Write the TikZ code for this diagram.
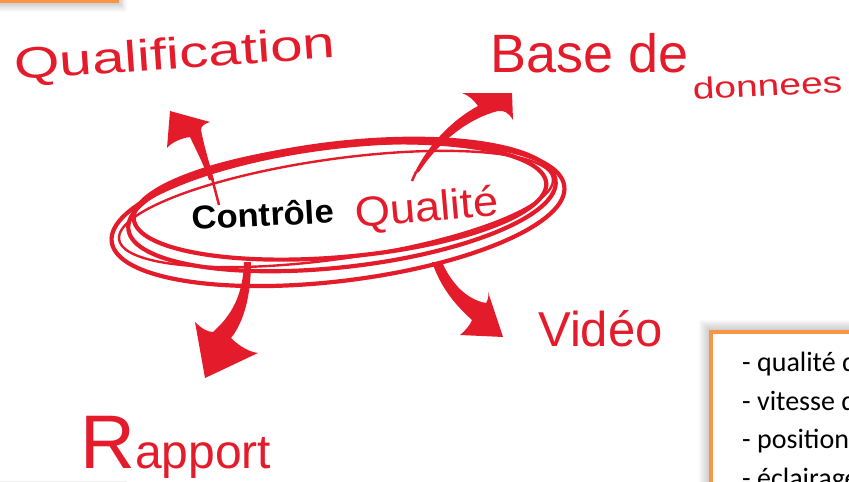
\documentclass[tikz,border=0pt]{standalone}
\usepackage{fontspec}
\setmainfont{Liberation Sans}
\newfontfamily\boxfont{Carlito}
\definecolor{penred}{RGB}{228,27,42}
\definecolor{boxorange}{RGB}{247,150,70}

\begin{document}
\begin{tikzpicture}[x=1pt,y=-1pt,
  label/.style={text=penred, inner sep=0pt, anchor=base west},
  scribble/.style={draw=penred, line width=4.2pt},
  thinscribble/.style={draw=penred, line width=2.4pt},
  bigarrow/.style={fill=penred},
  frame/.style={draw=boxorange, line width=4.5pt, fill=white},
  listline/.style={inner sep=0pt, anchor=base west, font=\boxfont\fontsize{28}{30}\selectfont}]

\useasboundingbox (0,0) rectangle (849,482);
\clip (0,0) rectangle (849,482);

% soft shadows of the three boxes
\foreach \i in {1,...,12} {
  \fill[black, opacity=0.018] ({711-\i},{332-\i}) rectangle (900,520);
  \fill[black, opacity=0.02] (-30,-30) rectangle ({117+0.8*\i},{1+0.9*\i});
  \fill[black, opacity=0.03] (-30,{488-0.6*\i}) rectangle ({122+0.4*\i},560);
}

% framed boxes
\draw[frame] (-30,-30) rectangle (117,1);
\draw[frame] (711,332) rectangle (900,520);
\fill[white] (-30,483) rectangle (122,560);

\node[listline] (l1) at (742,371) {- qualité de};
\node[listline] (l2) at (742,410) {- vitesse de};
\node[listline] (l3) at (742,448) {- position};
\node[listline] (l4) at (742,487) {- éclairage};

% named anchor points of the arrows
\coordinate (qtip) at (170,111);
\coordinate (btip) at (512,93);
\coordinate (rtip) at (205,378);
\coordinate (vtip) at (503,337);

% arrow towards "Qualification"
\fill[bigarrow] (qtip) -- (210,122) .. controls (204,124) and (201,126) .. (201,130)
  .. controls (205,150) and (210,165) .. (214,180) -- (209,180)
  .. controls (204,165) and (196,150) .. (190,137)
  .. controls (182,138) and (172,142) .. (167,148) -- cycle;
\draw[penred, line width=2.5pt] (212,178) -- (219,205);

% arrow towards "Base de donnees"
\fill[bigarrow] (btip) -- (513,120) .. controls (509,113) and (504,110) .. (498,111)
  .. controls (470,118) and (440,140) .. (419,172) -- (414,174)
  .. controls (428,145) and (452,120) .. (478,106)
  .. controls (474,100) and (468,95) .. (462,93) -- cycle;
\draw[penred, line width=2.5pt] (416,172) -- (412,181);

% arrow towards "Rapport"
\fill[bigarrow] (rtip) -- (195,322) .. controls (201,328) and (207,332) .. (213,332)
  .. controls (232,315) and (243,295) .. (244,262) -- (251,262)
  .. controls (251,295) and (244,322) .. (231,338)
  .. controls (240,347) and (250,352) .. (258,353) -- cycle;

% arrow towards "Vidéo"
\fill[bigarrow] (vtip) -- (460,335) .. controls (466,330) and (470,325) .. (472,320)
  .. controls (452,302) and (440,285) .. (432,262) -- (442,262)
  .. controls (452,285) and (468,300) .. (486,303)
  .. controls (488,300) and (489,296) .. (488,292) -- cycle;

% hand-drawn loops around the central label
\coordinate (c1) at (338,214);
\coordinate (c2) at (340,201);
\coordinate (c3) at (336,209);
\coordinate (c4) at (342,205);
\draw[scribble, rotate around={7:(c1)}] (c1) ellipse [x radius=228pt, y radius=67pt];
\draw[scribble, rotate around={5:(c2)}] (c2) ellipse [x radius=207pt, y radius=56pt];
\draw[thinscribble, rotate around={8:(c3)}] (c3) ellipse [x radius=219pt, y radius=50pt];
\draw[scribble, rotate around={6.5:(c4)}] (c4) ellipse [x radius=215pt, y radius=62pt];

% central label
\node[inner sep=0pt, anchor=base west, rotate=3, xscale=1.05,
  font=\bfseries\fontsize{33}{33}\selectfont] (ctrl) at (192,230) {Contrôle};
\node[label, rotate=5, xscale=1.08, font=\fontsize{42}{42}\selectfont] (qual) at (356,228) {Qualité};

% outer labels
\node[label, rotate=4, xscale=1.33, font=\fontsize{44}{44}\selectfont] (qualif) at (15,80) {Qualification};
\node[label, font=\fontsize{54}{54}\selectfont] (base) at (490,72) {Base de};
\node[label, rotate=3, xscale=1.3, font=\fontsize{30}{30}\selectfont] (donnees) at (693,100) {donnees};
\node[label, font=\fontsize{49}{49}\selectfont] (video) at (538,346) {Vidéo};
\node[label, font=\fontsize{48}{48}\selectfont] (rapport) at (80,468) {{\fontsize{76}{76}\selectfont R}apport};

\end{tikzpicture}
\end{document}
